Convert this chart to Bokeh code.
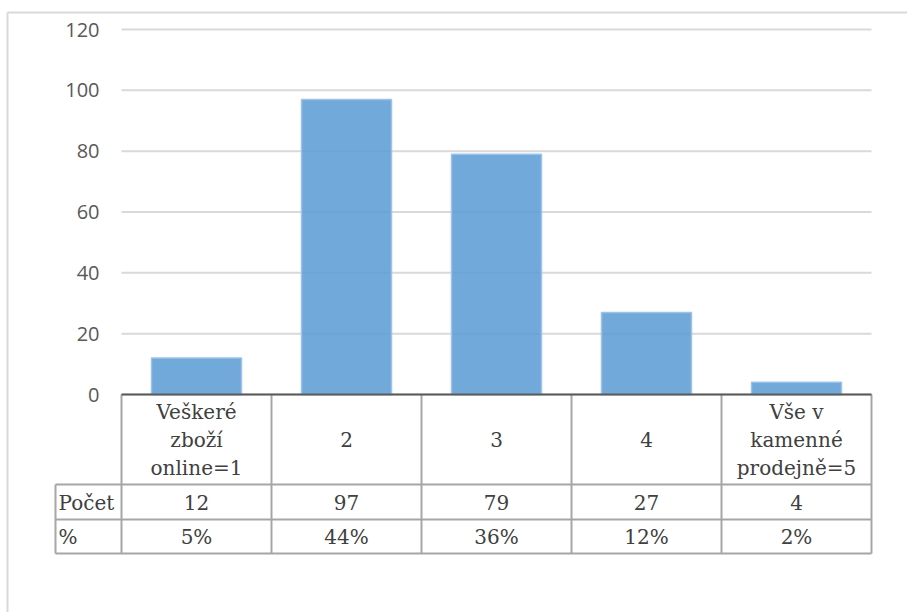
from bokeh.plotting import figure
from bokeh.models import Range1d
from bokeh.core.properties import value
from bokeh.embed import file_html
from bokeh.resources import INLINE

# --- data -------------------------------------------------------------
categories = ["Veškeré\nzboží\nonline=1", "2", "3", "4", "Vše v\nkamenné\nprodejně=5"]
counts = [12, 97, 79, 27, 4]
percents = ["5%", "44%", "36%", "12%", "2%"]
row_labels = ["Počet", "%"]
y_ticks = [0, 20, 40, 60, 80, 100, 120]

# --- layout (pixel geometry of the canvas) ----------------------------
W, H = 907, 612
COL_W = 150            # pixels per category
FIRST_CENTER = 196     # x pixel of first category centre
ZERO_PY = 394          # y pixel of value 0
TOP_PY = 29            # y pixel of value 120
PX_PER_UNIT = (ZERO_PY - TOP_PY) / 120.0


def sx(px):
    """screen x pixel -> category coordinate"""
    return 1 + (px - FIRST_CENTER) / COL_W


def sy(py):
    """screen y pixel (from top) -> value coordinate"""
    return (ZERO_PY - py) / PX_PER_UNIT


p = figure(width=W, height=H,
           x_range=Range1d(sx(0), sx(W)), y_range=Range1d(sy(H), sy(0)),
           output_backend="svg", toolbar_location=None,
           x_axis_location=None, y_axis_location=None, min_border=0)
p.grid.visible = False
p.outline_line_color = None
p.background_fill_color = "white"
p.border_fill_color = "white"

xs = list(range(1, len(counts) + 1))
left_edge, right_edge = 0.5, len(counts) + 0.5

# outer chart-area frame
p.segment(x0=[sx(7), sx(7)], y0=[sy(12), sy(12)], x1=[sx(W), sx(7)], y1=[sy(12), sy(H)],
          line_color="#d9d9d9", line_width=2)

# horizontal gridlines
p.segment(x0=[left_edge] * len(y_ticks), y0=y_ticks,
          x1=[right_edge] * len(y_ticks), y1=y_ticks,
          line_color="#d9d9d9", line_width=2)

# y tick labels
p.text(x=[sx(99)] * len(y_ticks), y=y_ticks, text=[str(t) for t in y_ticks],
       text_align="right", text_baseline="middle",
       text_font=value("Open Sans"), text_font_size="20px", text_color="#595959")

# bars
p.vbar(x=xs, top=counts, bottom=0, width=0.6,
       fill_color="#5b9bd5", fill_alpha=0.86, line_color="#9dc3e6", line_width=1.5)

# data table under the axis
row_tops = [484, 519, 553]
tbl_x0 = sx(55)
p.segment(x0=[tbl_x0] * 3, y0=[sy(r) for r in row_tops],
          x1=[right_edge] * 3, y1=[sy(r) for r in row_tops],
          line_color="#a6a6a6", line_width=2)
vx = [left_edge + i for i in range(len(counts) + 1)]
p.segment(x0=vx, y0=[0] * len(vx), x1=vx, y1=[sy(553)] * len(vx),
          line_color="#a6a6a6", line_width=2)
p.segment(x0=[tbl_x0], y0=[sy(484)], x1=[tbl_x0], y1=[sy(553)],
          line_color="#a6a6a6", line_width=2)

# category axis line
p.segment(x0=[left_edge], y0=[0], x1=[right_edge], y1=[0],
          line_color="#595959", line_width=2)

serif = value("DejaVu Serif")
fs = "20px"
txt_col = "#404040"

# category headers (multi-line, centred in the header row)
hx, hy, ht = [], [], []
line_step = 28
for x, cat in zip(xs, categories):
    lines = cat.split("\n")
    n = len(lines)
    for k, ln in enumerate(lines):
        hx.append(x)
        hy.append(sy(439 + (k - (n - 1) / 2) * line_step))
        ht.append(ln)
p.text(x=hx, y=hy, text=ht, text_align="center", text_baseline="middle",
       text_font=serif, text_font_size=fs, text_color=txt_col)

# count and percentage rows
p.text(x=xs, y=[sy(502)] * len(xs), text=[str(c) for c in counts],
       text_align="center", text_baseline="middle",
       text_font=serif, text_font_size=fs, text_color=txt_col)
p.text(x=xs, y=[sy(536)] * len(xs), text=percents,
       text_align="center", text_baseline="middle",
       text_font=serif, text_font_size=fs, text_color=txt_col)

# row labels
p.text(x=[sx(58)] * 2, y=[sy(502), sy(536)], text=row_labels,
       text_align="left", text_baseline="middle",
       text_font=serif, text_font_size=fs, text_color=txt_col)

open("out.html", "w").write(file_html(p, INLINE))
